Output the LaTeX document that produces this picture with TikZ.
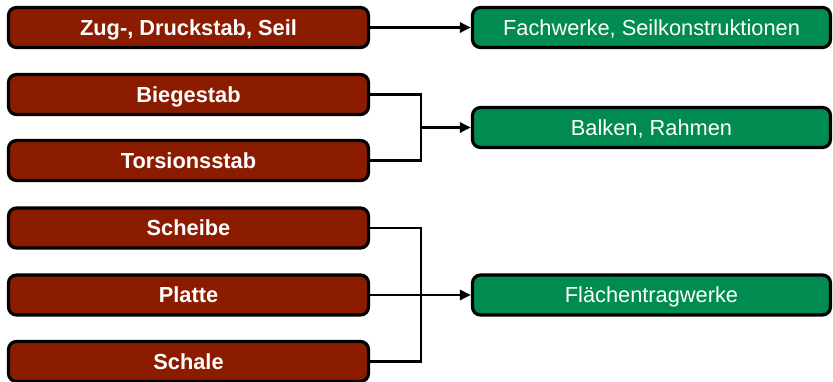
\documentclass[tikz,border=0pt]{standalone}
\usepackage{fontspec}
\setmainfont{Liberation Sans}
\usetikzlibrary{arrows.meta}
\definecolor{brick}{RGB}{140,28,0}
\definecolor{grn}{RGB}{0,139,80}
\begin{document}
\begin{tikzpicture}[x=1pt,y=-1pt,
  box/.style={draw=black, line width=3.2pt, rounded corners=8pt, text=white, inner sep=0pt, minimum height=40pt, text height=15.6pt, text depth=0pt},
  src/.style={box, fill=brick, minimum width=360pt, font=\fontsize{21.8}{24}\selectfont\bfseries},
  dst/.style={box, fill=grn, minimum width=358pt, font=\fontsize{21.8}{24}\selectfont},
  conn/.style={line width=2.8pt},
  arr/.style={conn, -{Triangle[length=11pt,width=10pt]}}]
\useasboundingbox (0,0) rectangle (833,382);
% source boxes
\node[src] (s1) at (188.5,27.5) {Zug-, Druckstab, Seil};
\node[src] (s2) at (188.5,94.5) {Biegestab};
\node[src] (s3) at (188.5,160.5) {Torsionsstab};
\node[src] (s4) at (188.5,228) {Scheibe};
\node[src] (s5) at (188.5,295) {Platte};
\node[src] (s6) at (188.5,361.5) {Schale};
% target boxes
\node[dst] (t1) at (651.5,27.5) {Fachwerke, Seilkonstruktionen};
\node[dst] (t2) at (651.5,127.5) {Balken, Rahmen};
\node[dst] (t3) at (651.5,295) {Flächentragwerke};
% junctions
\coordinate (j1) at (421,127.5);
\coordinate (j2) at (421,295);
% connectors
\draw[arr] (s1.east) -- (t1.west);
\draw[conn] (s2.east) -- (s2.east -| j1) -- (s3.east -| j1) -- (s3.east);
\draw[arr] (j1) -- (t2.west);
\draw[conn] (s4.east) -- (s4.east -| j2) -- (s6.east -| j2) -- (s6.east);
\draw[arr] (s5.east) -- (t3.west);
\end{tikzpicture}
\end{document}
